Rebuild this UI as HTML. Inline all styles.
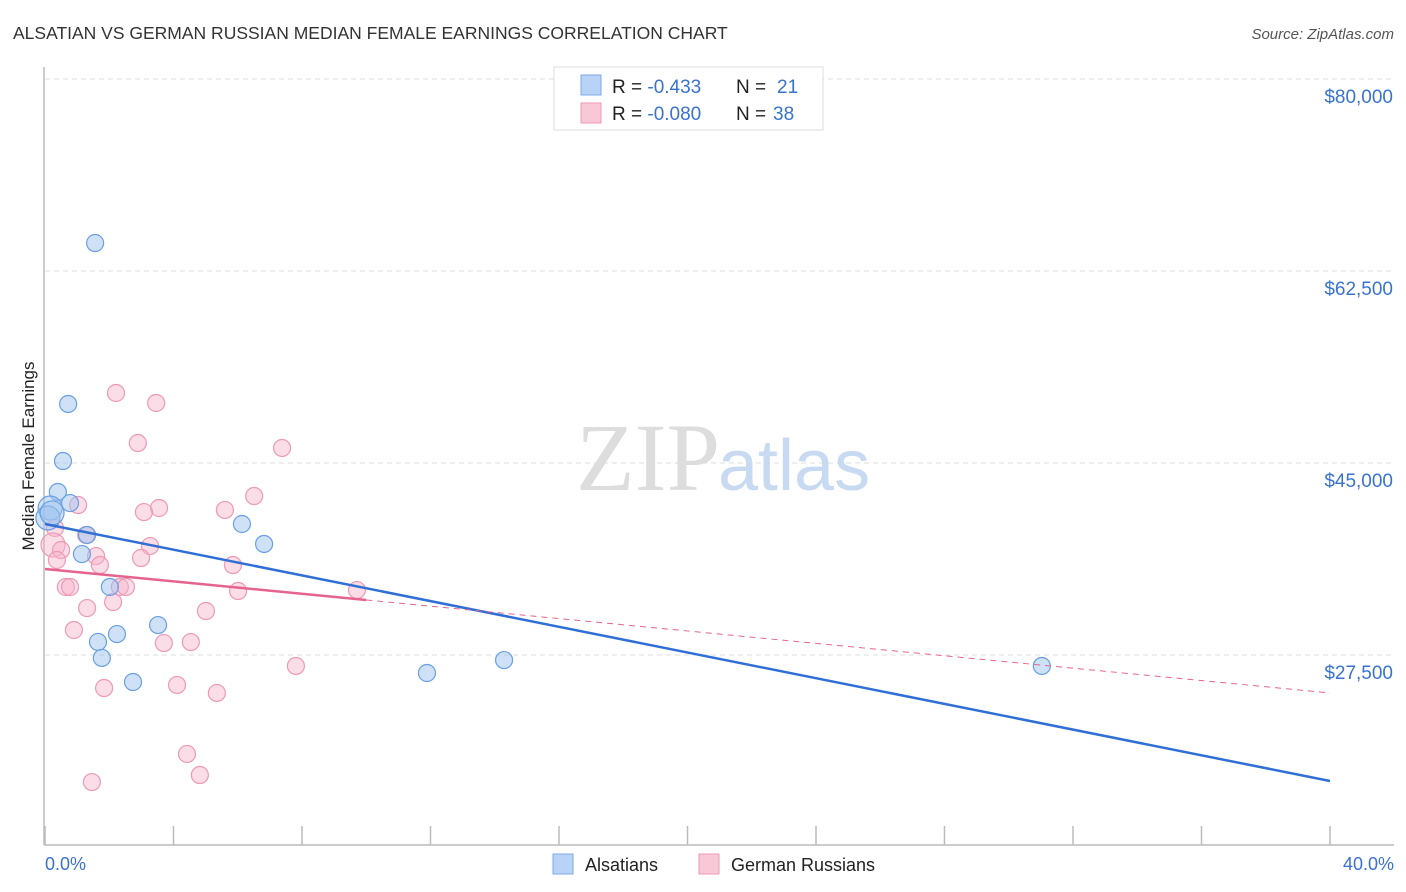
<!DOCTYPE html>
<html><head><meta charset="utf-8"><style>
body{margin:0;background:#fff;font-family:"Liberation Sans",sans-serif;}
svg{display:block}
</style></head><body>
<svg id="chart" width="1406" height="892" viewBox="0 0 1406 892">
<text x="13" y="39" font-size="17.5" fill="#333">ALSATIAN VS GERMAN RUSSIAN MEDIAN FEMALE EARNINGS CORRELATION CHART</text>
<text x="1394" y="39" font-size="15" fill="#555" font-style="italic" text-anchor="end">Source: ZipAtlas.com</text>
<text transform="translate(34,456) rotate(-90)" font-size="17" fill="#222" text-anchor="middle">Median Female Earnings</text>
<g id="grid"></g>
<text x="720" y="490" font-size="96" fill="#ddd" text-anchor="end" font-family="Liberation Serif,serif">ZIP</text>
<text x="718" y="490" font-size="72" fill="#c8daf2">atlas</text>
<line x1="44" y1="67" x2="44" y2="845" stroke="#bbb" stroke-width="1.5"/>
<line x1="44" y1="845" x2="1394" y2="845" stroke="#bbb" stroke-width="1.5"/>
<g id="xticks"></g>
<text x="45" y="870" font-size="18" fill="#3a72d0">0.0%</text>
<text x="1394" y="870" font-size="18" fill="#3a72d0" text-anchor="end">40.0%</text>
<g id="points"></g>
<g id="trends"></g>
<g>
<rect x="554" y="67" width="269" height="63" fill="#fff" stroke="#ddd"/>
<rect x="581" y="75" width="20" height="20" fill="#b8d3f5" stroke="#7eaae6"/>
<rect x="581" y="103" width="20" height="20" fill="#f9c8d6" stroke="#ec9ab5"/>
<text x="612" y="93" font-size="19" fill="#222">R = <tspan fill="#3a72d0">-0.433</tspan><tspan x="736">N = </tspan><tspan fill="#3a72d0" x="777">21</tspan></text>
<text x="612" y="120" font-size="19" fill="#222">R = <tspan fill="#3a72d0">-0.080</tspan><tspan x="736">N = </tspan><tspan fill="#3a72d0" x="773">38</tspan></text>
</g>
<g>
<rect x="553" y="854" width="20" height="20" fill="#b8d3f5" stroke="#7eaae6"/>
<text x="585" y="871" font-size="18" fill="#222">Alsatians</text>
<rect x="699" y="854" width="20" height="20" fill="#f9c8d6" stroke="#ec9ab5"/>
<text x="731" y="871" font-size="18" fill="#222">German Russians</text>
</g>
</svg>
<script>
const yTicks=[27500,45000,62500,80000];
const yTickLabels=["$27,500","$45,000","$62,500","$80,000"];
const xTickPcts=[0,4,8,12,16,20,24,28,32,36,40];
const blueX=[1.56,0.72,0.56,0.40,0.78,0.16,0.09,0.22,1.31,1.15,2.02,6.13,6.82,3.52,2.24,1.65,1.77,2.74,11.89,14.29,31.03];
const blueY=[65050,50380,45180,42360,41350,40900,39990,40450,38440,36700,33700,39440,37620,30230,29410,28690,27230,25040,25860,27040,26500];
const pinkX=[2.21,3.46,2.89,7.38,1.03,6.51,3.55,3.08,5.60,0.31,1.28,0.25,3.27,0.50,1.59,2.99,0.37,1.71,5.85,0.65,0.78,2.33,2.52,6.01,9.71,2.12,1.31,5.01,0.90,3.70,4.54,7.81,1.84,4.11,5.35,4.42,4.82,1.46];
const pinkY=[51380,50470,46820,46370,41170,41990,40900,40530,40720,39080,38440,37530,37430,37070,36520,36340,36160,35700,35700,33700,33700,33700,33700,33330,33420,32330,31780,31510,29780,28590,28680,26500,24490,24770,24040,18480,16560,15920];
const blueTrend=[39440,16015];
const pinkTrend=[35340,24040];
const pinkSolidEnd=10;
const NS="http://www.w3.org/2000/svg";
const xs=p=>45+(p/40)*1285;
const ys=v=>79+(80000-v)/17500*192;
function mk(tag,attrs,parent){const e=document.createElementNS(NS,tag);for(const k in attrs)e.setAttribute(k,attrs[k]);parent.appendChild(e);return e;}
const grid=document.getElementById('grid');
yTicks.forEach((v,i)=>{
 const l=mk('line',{x1:45,x2:1394,y1:ys(v),y2:ys(v),stroke:'#ddd','stroke-dasharray':'5,4'},grid);
 
 
 const t=mk('text',{x:1393,y:ys(v)+24,'font-size':19,fill:'#3a72d0','text-anchor':'end'},grid);
 t.textContent=yTickLabels[i];
 
 
});
const xt=document.getElementById('xticks');
xTickPcts.forEach(p=>{
 const l=mk('line',{x1:xs(p),x2:xs(p),y1:826,y2:845,stroke:'#bbb','stroke-width':1.5},xt);
 
 
});
const pts=document.getElementById('points');
function series(X,Y,fill,stroke,name){
 X.forEach((x,i)=>{
  const c=mk('circle',{cx:xs(x),cy:ys(Y[i]),r:(x<0.3?12:8.5),fill:fill,stroke:stroke,'stroke-width':1.2},pts);
  
  
 });
}
series(pinkX,pinkY,'rgba(246,180,202,0.45)','#ec9ab5','point-german-russian');
series(blueX,blueY,'rgba(160,196,240,0.5)','#6a9fe0','point-alsatian');
const tr=document.getElementById('trends');
let l=mk('line',{x1:xs(0),y1:ys(blueTrend[0]),x2:xs(40),y2:ys(blueTrend[1]),stroke:'#2f6fd6','stroke-width':2.5},tr);


const pv=p=>pinkTrend[0]+(pinkTrend[1]-pinkTrend[0])*p/40;
l=mk('line',{x1:xs(0),y1:ys(pv(0)),x2:xs(pinkSolidEnd),y2:ys(pv(pinkSolidEnd)),stroke:'#e5638f','stroke-width':2.5},tr);


l=mk('line',{x1:xs(pinkSolidEnd),y1:ys(pv(pinkSolidEnd)),x2:xs(40),y2:ys(pv(40)),stroke:'#e5638f','stroke-width':1,'stroke-dasharray':'6,5'},tr);


</script>
</body></html>
